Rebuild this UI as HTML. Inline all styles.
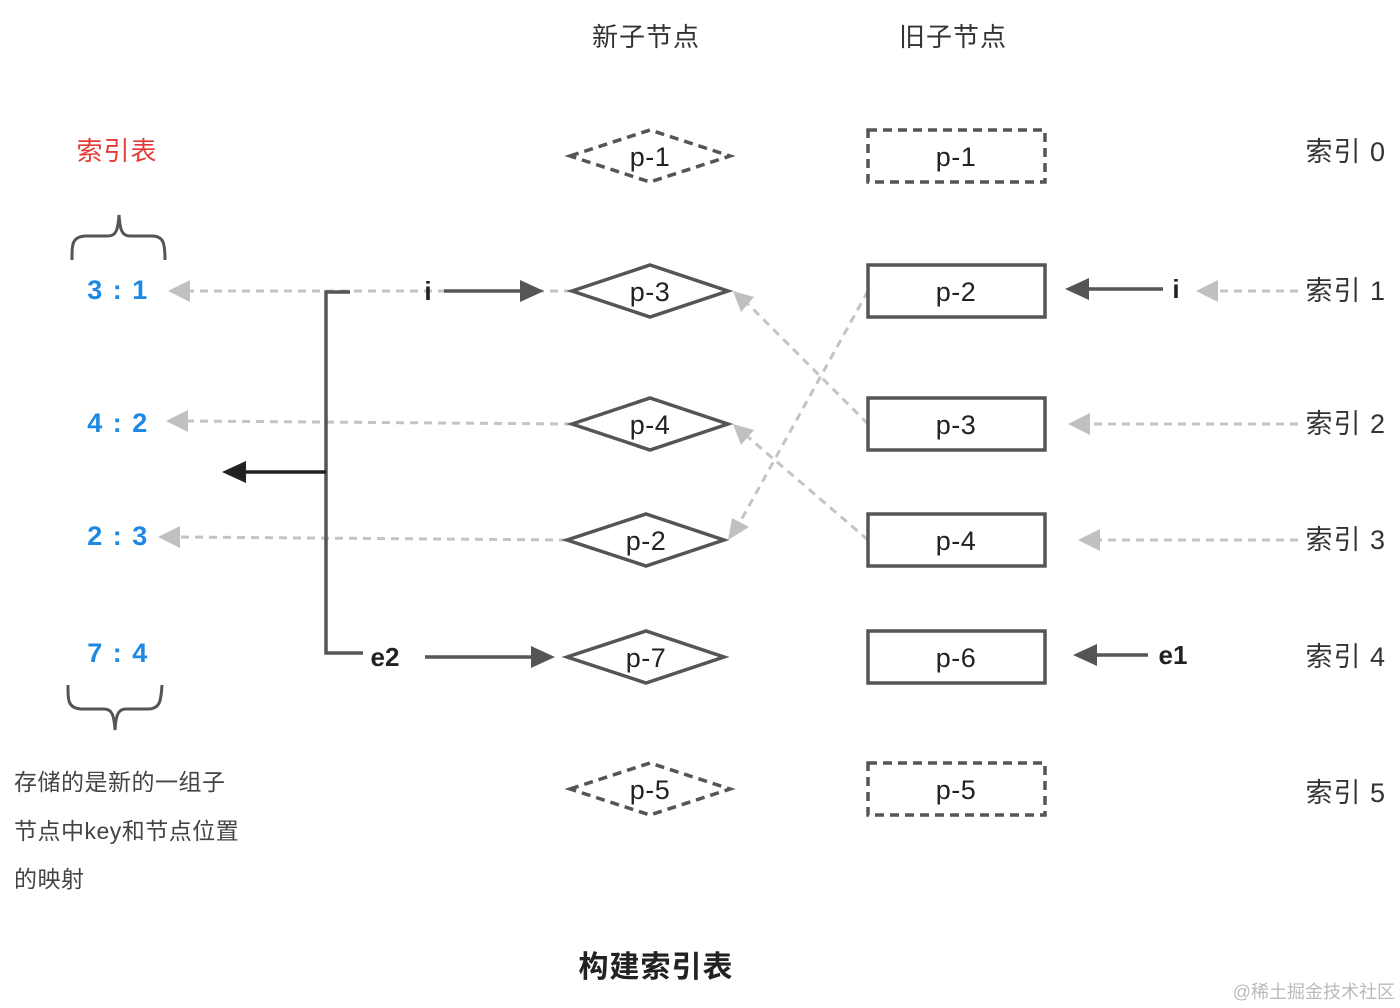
<!DOCTYPE html>
<html><head><meta charset="utf-8"><style>
html,body{margin:0;padding:0;background:#fff;width:1400px;height:1008px;overflow:hidden}
svg{display:block}
text{font-family:"Liberation Sans","Noto Sans CJK SC",sans-serif}
</style></head><body>
<svg width="1400" height="1008" viewBox="0 0 1400 1008" xmlns="http://www.w3.org/2000/svg">
<g font-size="26" fill="#333" text-anchor="middle">
<text x="646" y="46" letter-spacing="1">新子节点</text>
<text x="953" y="46" letter-spacing="1">旧子节点</text>
</g>
<text x="117" y="160" font-size="26" fill="#e53935" text-anchor="middle" letter-spacing="1">索引表</text>
<g font-size="27" fill="#1e88e5" font-weight="bold" text-anchor="middle" letter-spacing="1.5">
<text x="118" y="299">3 : 1</text>
<text x="118" y="432">4 : 2</text>
<text x="118" y="545">2 : 3</text>
<text x="118" y="662">7 : 4</text>
</g>
<path d="M72,260 C72,244 72,237 85,236 L108,236 C116,236 118,230 119,215 C120,230 122,236 130,236 L152,236 C164,236 165,244 165,260" fill="none" stroke="#555" stroke-width="3"/>
<path d="M68,685 C68,701 68,708 81,709 L104,709 C112,709 114,715 115,730 C116,715 118,709 126,709 L148,709 C160,709 161,701 162,685" fill="none" stroke="#555" stroke-width="3"/>
<g font-size="23" fill="#444" letter-spacing="0.5">
<text x="14" y="790">存储的是新的一组子</text>
<text x="14" y="839">节点中key和节点位置</text>
<text x="14" y="887">的映射</text>
</g>
<text x="656" y="977" font-size="30" font-weight="bold" fill="#222" text-anchor="middle" letter-spacing="1">构建索引表</text>
<text x="1395" y="998" font-size="18" fill="#bbb" text-anchor="end">@稀土掘金技术社区</text>

<g stroke="#c4c4c4" stroke-width="3" stroke-dasharray="8,6" fill="none">
<line x1="572" y1="291" x2="190" y2="291"/>
<line x1="572" y1="424" x2="188" y2="421"/>
<line x1="567" y1="540" x2="180" y2="537"/>
<line x1="1298" y1="291" x2="1218" y2="291"/>
<line x1="1298" y1="424" x2="1090" y2="424"/>
<line x1="1298" y1="540" x2="1100" y2="540"/>
<line x1="868" y1="424" x2="748" y2="304"/>
<line x1="868" y1="540" x2="748" y2="437"/>
<line x1="868" y1="291" x2="740" y2="522"/>
</g>
<g fill="#c0c0c0">
<polygon points="168,291 190,280 190,302"/>
<polygon points="166,421 188,410 188,432"/>
<polygon points="158,537 180,526 180,548"/>
<polygon points="1196,291 1218,280 1218,302"/>
<polygon points="1068,424 1090,413 1090,435"/>
<polygon points="1078,540 1100,529 1100,551"/>
<polygon points="733,291 754,297 741,312"/>
<polygon points="733,424 754,430 741,445"/>
<polygon points="728,540 732,518 749,527"/>
</g>

<g stroke="#555" stroke-width="3.5" fill="none">
<polyline points="350,292 326,292 326,653 363,653"/>
<line x1="444" y1="291" x2="522" y2="291"/>
<line x1="425" y1="657" x2="533" y2="657"/>
<line x1="1163" y1="289" x2="1087" y2="289"/>
<line x1="1148" y1="655" x2="1095" y2="655"/>
</g>
<line x1="326" y1="472" x2="244" y2="472" stroke="#222" stroke-width="3.5"/>
<polygon points="222,472 246,461 246,483" fill="#222"/>
<g fill="#555">
<polygon points="544,291 520,280 520,302"/>
<polygon points="555,657 531,646 531,668"/>
<polygon points="1065,289 1089,278 1089,300"/>
<polygon points="1073,655 1097,644 1097,666"/>
</g>
<g font-size="26" font-weight="bold" fill="#222" text-anchor="middle">
<text x="428" y="300">i</text>
<text x="385" y="666">e2</text>
<text x="1176" y="298">i</text>
<text x="1173" y="664">e1</text>
</g>

<g fill="#fff" stroke="#555" stroke-width="3.5">
<polygon points="570,156 650,130 730,156 650,182" stroke-dasharray="9,6"/>
<polygon points="572,291 650,265 728,291 650,317"/>
<polygon points="572,424 650,398 728,424 650,450"/>
<polygon points="567,540 646,514 724,540 646,566"/>
<polygon points="567,657 646,631 724,657 646,683"/>
<polygon points="570,789 650,763 730,789 650,815" stroke-dasharray="9,6"/>
</g>
<g fill="#fff" stroke="#555" stroke-width="3.5">
<rect x="868" y="130" width="177" height="52" stroke-dasharray="9,6"/>
<rect x="868" y="265" width="177" height="52"/>
<rect x="868" y="398" width="177" height="52"/>
<rect x="868" y="514" width="177" height="52"/>
<rect x="868" y="631" width="177" height="52"/>
<rect x="868" y="763" width="177" height="52" stroke-dasharray="9,6"/>
</g>
<g font-size="27" fill="#222" text-anchor="middle" letter-spacing="0.5">
<text x="650" y="166">p-1</text>
<text x="650" y="301">p-3</text>
<text x="650" y="434">p-4</text>
<text x="646" y="550">p-2</text>
<text x="646" y="667">p-7</text>
<text x="650" y="799">p-5</text>
<text x="956" y="166">p-1</text>
<text x="956" y="301">p-2</text>
<text x="956" y="434">p-3</text>
<text x="956" y="550">p-4</text>
<text x="956" y="667">p-6</text>
<text x="956" y="799">p-5</text>
</g>
<g font-size="27" fill="#333" text-anchor="end" letter-spacing="1">
<text x="1386" y="161">索引 0</text>
<text x="1386" y="300">索引 1</text>
<text x="1386" y="433">索引 2</text>
<text x="1386" y="549">索引 3</text>
<text x="1386" y="666">索引 4</text>
<text x="1386" y="802">索引 5</text>
</g>
</svg>
</body></html>
